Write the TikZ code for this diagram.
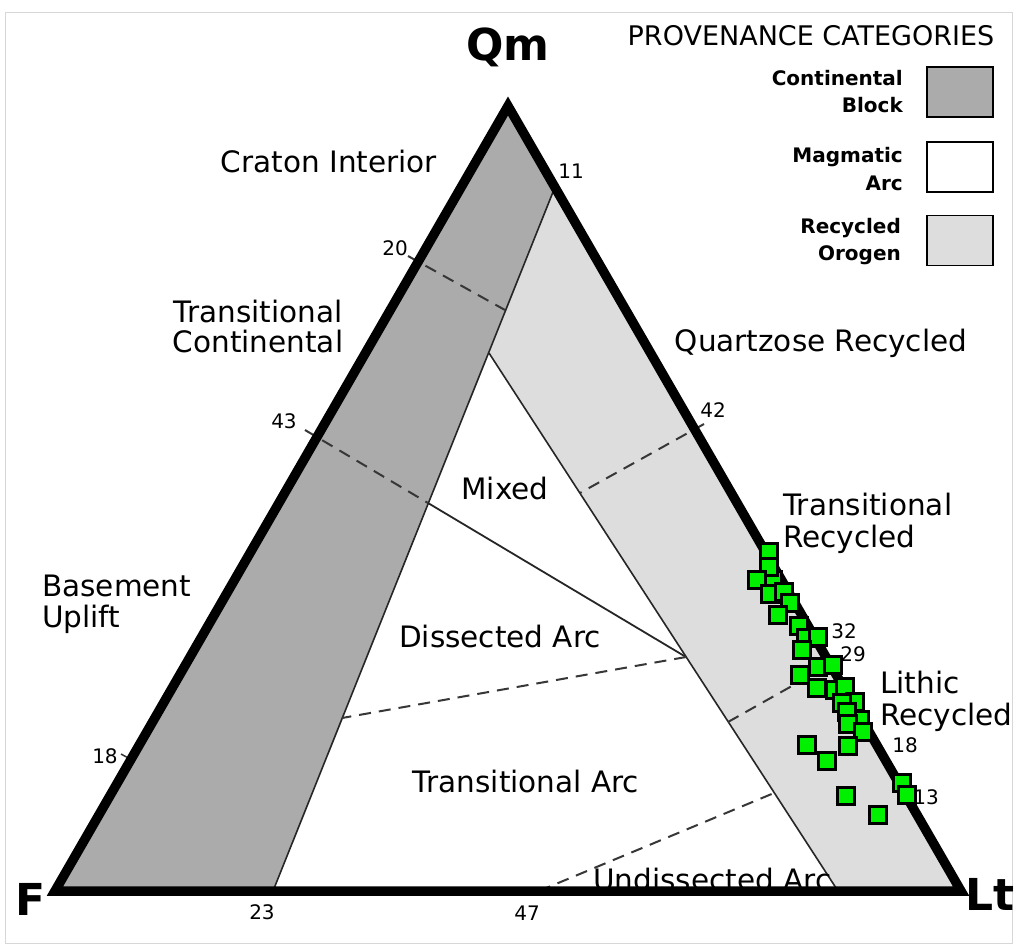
\documentclass[tikz,border=0pt]{standalone}
\usepackage{fontspec}
\setmainfont{DejaVu Sans}
\definecolor{contgray}{RGB}{171,171,171}
\definecolor{recgray}{RGB}{221,221,221}
\definecolor{ptgreen}{RGB}{0,240,0}
\definecolor{dashgray}{RGB}{55,55,55}
\definecolor{framegray}{RGB}{215,215,215}
\begin{document}
\begin{tikzpicture}[x=1pt,y=-1pt,
  region/.style={font=\fontsize{29.5}{29.5}\selectfont, inner sep=0pt},
  ticklab/.style={font=\fontsize{20}{20}\selectfont, inner sep=0pt},
  apexlab/.style={font=\bfseries\fontsize{44}{44}\selectfont, inner sep=0pt},
  legtext/.style={font=\bfseries\fontsize{20}{20}\selectfont, inner sep=0pt, anchor=base east},
  legbox/.style={draw=black, line width=1.5pt, minimum width=66pt, minimum height=50pt, inner sep=0pt},
  bound/.style={line width=1.6pt, draw=black!85},
  divide/.style={line width=2pt, draw=dashgray, dash pattern=on 12pt off 8pt},
  sample/.style={draw=black, line width=2.4pt, fill=ptgreen, minimum size=17pt, inner sep=0pt},
  outline/.style={line width=9.5pt, line join=miter}
]
\useasboundingbox (0,0) rectangle (1019,948);
\fill[white] (0,0) rectangle (1019,948);
\draw[framegray, line width=1pt] (5,12) rectangle (1012,943);

% vertices and key points
\coordinate (Qm) at (508,106);
\coordinate (F) at (55,891);
\coordinate (Lt) at (961,891);
\coordinate (A) at (555,187);
\coordinate (B) at (273,891);
\coordinate (V) at (489,353);
\coordinate (C) at (838,891);

% regions
\fill[contgray] (Qm) -- (A) -- (B) -- (F) -- cycle;
\fill[recgray] (A) -- (Lt) -- (C) -- (V) -- cycle;
\draw[bound] (A) -- (B);
\draw[bound] (V) -- (C);

% field dividers
\coordinate (d1s) at (408,256);
\coordinate (d1e) at (505,310);
\coordinate (d2s) at (305,430);
\coordinate (d2e) at (428,503);
\coordinate (m1) at (686,657);
\coordinate (d3e) at (342,718);
\coordinate (d4s) at (539,891);
\coordinate (d4e) at (774,793);
\coordinate (d5s) at (704,424);
\coordinate (d5e) at (580,493);
\coordinate (d6s) at (728,722);
\coordinate (d6e) at (838,660);
\coordinate (t18a) at (121,754);
\coordinate (t18b) at (132,760);

\draw[divide] (d1s) -- (d1e);
\draw[divide] (d2s) -- (d2e);
\draw[bound, line width=1.8pt] (d2e) -- (m1);
\draw[divide] (m1) -- (d3e);
\draw[divide] (d4s) -- (d4e);
\draw[divide] (d5s) -- (d5e);
\draw[divide] (d6s) -- (d6e);
\draw[line width=1.5pt, draw=dashgray] (t18a) -- (t18b);

% region labels
\node[region, anchor=base] (craton) at (329,172) {Craton Interior};
\node[region, anchor=base] (trc1) at (258,322) {Transitional};
\node[region, anchor=base] (trc2) at (258,352) {Continental};
\node[region, anchor=base] (qzr) at (821,351) {Quartzose Recycled};
\node[region, anchor=base] (mixed) at (505,499) {Mixed};
\node[region, anchor=base west] (trr1) at (783,515) {Transitional};
\node[region, anchor=base west] (trr2) at (783,547) {Recycled};
\node[region, anchor=base west] (bu1) at (42,596) {Basement};
\node[region, anchor=base west] (bu2) at (42,627) {Uplift};
\node[region, anchor=base] (dis) at (500,647) {Dissected Arc};
\node[region, anchor=base west] (lr1) at (880,693) {Lithic};
\node[region, anchor=base west] (lr2) at (880,725) {Recycled};
\node[region, anchor=base] (tra) at (526,792) {Transitional Arc};
\node[region, anchor=base west] (und) at (593,890) {Undissected Arc};

% triangle outline
\draw[outline] (Qm) -- (Lt) -- (F) -- cycle;

% samples
\foreach \px/\py [count=\i] in {773/580, 769/552, 769/567, 757/580, 770/594, 784/592, 790/603, 778/615, 799/626, 806/638, 818/637, 802/650, 818/667, 833/665, 800/675, 817/688, 835/690, 845/687, 855/702, 842/703, 860/720, 847/712, 848/724, 863/732, 848/746, 807/745, 827/761, 902/783, 907/795, 846/796, 878/815}
  \node[sample] (s\i) at (\px,\py) {};

% tick labels
\node[ticklab] (l11) at (571,171) {11};
\node[ticklab] (l20) at (395,248) {20};
\node[ticklab] (l43) at (284,421) {43};
\node[ticklab] (l18a) at (105,756) {18};
\node[ticklab] (l42) at (713,410) {42};
\node[ticklab] (l32) at (844,631) {32};
\node[ticklab] (l29) at (853,654) {29};
\node[ticklab] (l18b) at (905,745) {18};
\node[ticklab] (l13) at (926,797) {13};
\node[ticklab] (l23) at (262,912) {23};
\node[ticklab] (l47) at (527,913) {47};

% apex labels
\node[apexlab, anchor=base] (qmlab) at (508,60) {Qm};
\node[apexlab, anchor=base] (flab) at (31,915) {F};
\node[apexlab, anchor=base west] (ltlab) at (965,910) {Lt};

% legend
\node[font=\fontsize{27}{27}\selectfont, inner sep=0pt, anchor=base] (title) at (811,45) {PROVENANCE CATEGORIES};
\node[legbox, fill=contgray] (box1) at (960,92) {};
\node[legbox, fill=white] (box2) at (960,167) {};
\node[legbox, fill=recgray] (box3) at (960,240.5) {};
\node[legtext] (lg1a) at (903,85) {Continental};
\node[legtext] (lg1b) at (903,112) {Block};
\node[legtext] (lg2a) at (903,162) {Magmatic};
\node[legtext] (lg2b) at (903,190) {Arc};
\node[legtext] (lg3a) at (901,233) {Recycled};
\node[legtext] (lg3b) at (901,260) {Orogen};
\end{tikzpicture}
\end{document}
